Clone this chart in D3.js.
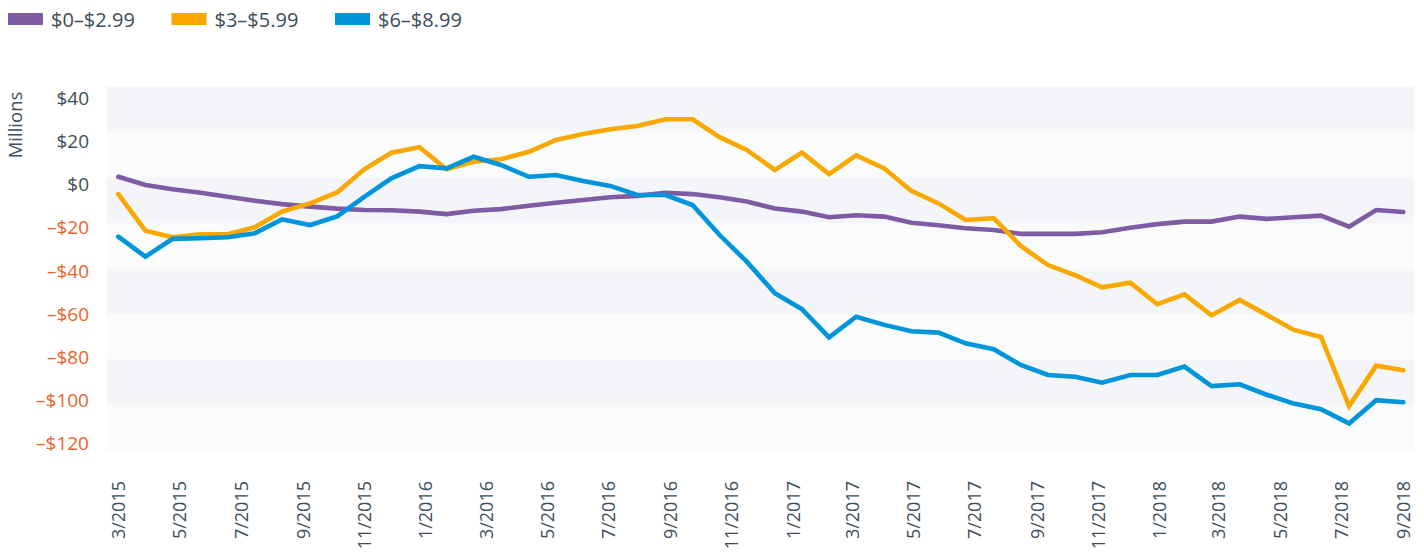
<!DOCTYPE html>
<html><head><meta charset="utf-8">
<script src="https://cdn.jsdelivr.net/npm/d3@7"></script>
<style>
body{margin:0;background:#fff;}
svg{display:block;font-family:"Open Sans",sans-serif;}
</style></head><body>
<svg id="chart" width="1424" height="552"></svg>
<script>
// ---- data ----
const periods = [
"2015-03-01","2015-03-28","2015-04-24","2015-05-22","2015-06-18","2015-07-15","2015-08-11","2015-09-08","2015-10-05","2015-11-01","2015-11-28",
"2015-12-26","2016-01-22","2016-02-18","2016-03-16","2016-04-13","2016-05-10","2016-06-06","2016-07-03","2016-07-30","2016-08-27","2016-09-23","2016-10-20","2016-11-16",
"2016-12-14","2017-01-10","2017-02-06","2017-03-05","2017-04-02","2017-04-29","2017-05-26","2017-06-22","2017-07-20","2017-08-16","2017-09-12","2017-10-09",
"2017-11-05","2017-12-03","2017-12-30","2018-01-26","2018-02-22","2018-03-22","2018-04-18","2018-05-15","2018-06-11","2018-07-09","2018-08-05","2018-09-01"];
const seriesNames = ["$0\u2013$2.99", "$3\u2013$5.99", "$6\u2013$8.99"];
const seriesColors = ["#7e5ba3", "#f8a800", "#0095da"];
const low = [0.4,-3.2,-5.1,-6.6,-8.4,-10.1,-11.6,-12.7,-13.6,-14.2,-14.3,
  -14.9,-16.0,-14.5,-13.8,-12.3,-11.0,-9.8,-8.6,-8.0,-6.6,-7.2,-8.6,-10.5,
  -13.5,-14.9,-17.4,-16.5,-17.1,-19.8,-20.9,-22.2,-23.0,-24.7,-24.7,-24.7,
  -24.0,-22.0,-20.4,-19.3,-19.3,-17.1,-18.1,-17.4,-16.7,-21.5,-14.2,-15.1];
const mid = [-7.2,-23.3,-26.2,-24.9,-24.9,-21.8,-14.9,-11.3,-6.5,3.7,11.0,
  13.4,3.7,7.0,8.1,11.4,16.6,19.2,21.3,22.7,25.7,25.7,17.8,12.2,
  3.4,11.0,1.6,9.8,4.1,-5.8,-11.3,-18.6,-17.8,-30.0,-38.4,-42.8,
  -48.2,-46.2,-55.6,-51.3,-60.5,-53.7,-60.3,-66.9,-70.0,-100.4,-82.6,-84.6];
const high = [-25.9,-34.7,-26.9,-26.6,-26.2,-24.4,-18.3,-20.8,-17.0,-8.4,-0.3,
  5.1,4.1,9.2,5.6,0.4,1.2,-1.5,-3.6,-7.6,-7.6,-12.0,-25.2,-36.9,
  -50.8,-57.8,-70.2,-61.1,-64.7,-67.5,-68.1,-72.8,-75.4,-82.3,-86.7,-87.5,
  -90.1,-86.7,-86.7,-83.0,-91.6,-90.8,-95.4,-99.3,-101.8,-108.0,-97.8,-98.7];
const yTicks = [40, 20, 0, -20, -40, -60, -80, -100, -120];
const xTicks = ["2015-03-01","2015-05-01","2015-07-01","2015-09-01","2015-11-01",
  "2016-01-01","2016-03-01","2016-05-01","2016-07-01","2016-09-01","2016-11-01",
  "2017-01-01","2017-03-01","2017-05-01","2017-07-01","2017-09-01","2017-11-01",
  "2018-01-01","2018-03-01","2018-05-01","2018-07-01","2018-09-01"];

// ---- chart ----
const parse = d3.timeParse("%Y-%m-%d");
const dates = periods.map(parse);
const svg = d3.select("#chart");
const textColor = "#3c4e5b", negColor = "#e8652a";

const plotLeft = 107, plotRight = 1414;
const x = d3.scaleTime().domain([dates[0], dates[dates.length-1]]).range([118.3, 1403.3]);
const y = d3.scaleLinear().domain([-120, 40]).range([450.7, 86.7]);
const yLab = d3.scaleLinear().domain([-120, 40]).range([443.5, 98.5]);

// bands
const bandPairs = d3.pairs(yTicks);
svg.append("g").selectAll("rect").data(bandPairs).join("rect")
  .attr("x", plotLeft).attr("width", plotRight - plotLeft)
  .attr("y", d => y(d[0])).attr("height", d => y(d[1]) - y(d[0]))
  .attr("fill", (d, i) => i % 2 === 0 ? "#f4f5f9" : "#fafbfb");

// y axis
const fmtY = v => (v < 0 ? "\u2013$" + Math.abs(v) : "$" + v);
const yAxis = svg.append("g").attr("transform", "translate(89,0)")
  .call(d3.axisLeft(yLab).tickValues(yTicks).tickSize(0).tickPadding(0).tickFormat(fmtY));
yAxis.select(".domain").remove();
yAxis.selectAll("text").attr("font-size", 19).attr("font-family", "Open Sans, sans-serif")
  .attr("fill", d => d < 0 ? negColor : textColor);

svg.append("text").attr("transform", "translate(22,125) rotate(-90)")
  .attr("text-anchor", "middle").attr("font-size", 18.5).attr("fill", textColor).text("Millions");

// x axis
const xAxis = svg.append("g").attr("transform", "translate(0,481)")
  .call(d3.axisBottom(x).tickValues(xTicks.map(parse)).tickSize(0).tickFormat(d3.timeFormat("%-m/%Y")));
xAxis.select(".domain").remove();
xAxis.selectAll("text").attr("font-size", 18).attr("font-family", "Open Sans, sans-serif")
  .attr("fill", textColor)
  .attr("x", 0).attr("y", 0).attr("dy", "0.35em")
  .attr("transform", "rotate(-90)").attr("text-anchor", "end");

// lines
const line = d3.line().x((d, i) => x(dates[i])).y(d => y(d));
const series = [low, mid, high];
svg.append("g").selectAll("path").data(series).join("path")
  .attr("d", line).attr("fill", "none")
  .attr("stroke", (d, i) => seriesColors[i]).attr("stroke-width", 4.6)
  .attr("stroke-linejoin", "miter").attr("stroke-miterlimit", 3).attr("stroke-linecap", "round");

// legend
const legend = svg.append("g").selectAll("g").data(seriesNames).join("g")
  .attr("transform", (d, i) => `translate(${8 + i * 163.5},0)`);
legend.append("rect").attr("x", 0).attr("y", 13).attr("width", 35).attr("height", 12)
  .attr("fill", (d, i) => seriesColors[i]);
legend.append("text").attr("x", 43).attr("y", 19.5).attr("dy", "0.35em")
  .attr("font-size", 20).attr("fill", textColor).text(d => d);
</script>
</body></html>
